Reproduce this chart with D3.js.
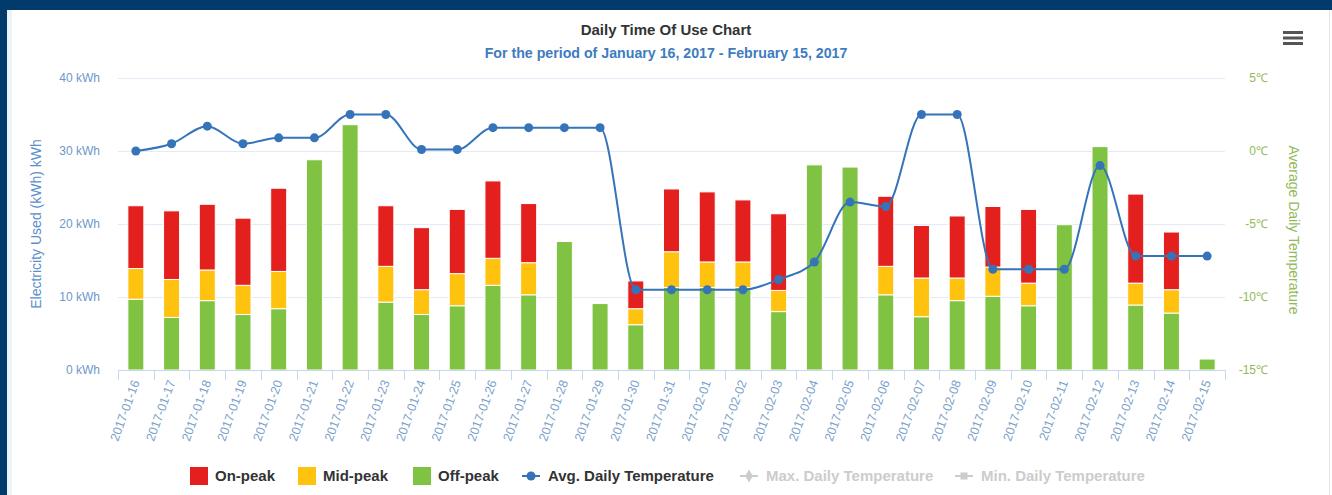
<!DOCTYPE html>
<html>
<head>
<meta charset="utf-8">
<script src="https://cdn.jsdelivr.net/npm/d3@7"></script>
<style>
  html, body { margin: 0; padding: 0; background: #003b6b; }
  #chart { position: absolute; left: 0; top: 0; }
  text { font-family: "Liberation Sans", Arial, sans-serif; }
</style>
</head>
<body>
<div id="chart"></div>
<script>
// categories
const days = ["2017-01-16","2017-01-17","2017-01-18","2017-01-19","2017-01-20","2017-01-21","2017-01-22",
  "2017-01-23","2017-01-24","2017-01-25","2017-01-26","2017-01-27","2017-01-28","2017-01-29","2017-01-30",
  "2017-01-31","2017-02-01","2017-02-02","2017-02-03","2017-02-04","2017-02-05","2017-02-06","2017-02-07",
  "2017-02-08","2017-02-09","2017-02-10","2017-02-11","2017-02-12","2017-02-13","2017-02-14","2017-02-15"];

// kWh per period
const offPeak = [9.7, 7.2, 9.5, 7.6, 8.4, 28.8, 33.6, 9.3, 7.6, 8.8, 11.6, 10.3, 17.6, 9.1, 6.2,
  11.3, 11.3, 11.3, 8.0, 28.1, 27.8, 10.3, 7.3, 9.5, 10.1, 8.8, 19.9, 30.6, 8.9, 7.8, 1.5];
const midPeak = [4.2, 5.2, 4.2, 4.0, 5.1, 0, 0, 4.9, 3.4, 4.4, 3.7, 4.4, 0, 0, 2.2,
  4.9, 3.5, 3.5, 2.9, 0, 0, 3.9, 5.3, 3.1, 4.0, 3.1, 0, 0, 3.0, 3.2, 0];
const onPeak = [8.6, 9.4, 9.0, 9.2, 11.4, 0, 0, 8.3, 8.5, 8.8, 10.6, 8.1, 0, 0, 3.8,
  8.6, 9.6, 8.5, 10.5, 0, 0, 9.6, 7.2, 8.5, 8.3, 10.1, 0, 0, 12.2, 7.9, 0];

// average daily temperature (℃)
const avgTemp = [0.0, 0.5, 1.7, 0.5, 0.9, 0.9, 2.5, 2.5, 0.1, 0.1, 1.6, 1.6, 1.6, 1.6, -9.5,
  -9.5, -9.5, -9.5, -8.8, -7.6, -3.5, -3.8, 2.5, 2.5, -8.1, -8.1, -8.1, -1.0, -7.2, -7.2, -7.2];

const kwhTicks = [0, 10, 20, 30, 40];
const tempTicks = [-15, -10, -5, 0, 5];

const seriesColors = {"Off-peak": "#80c241", "Mid-peak": "#ffc20e", "On-peak": "#e4201f"};

const W = 1332, H = 495;
const svg = d3.select("#chart").append("svg")
    .attr("width", W)
    .attr("height", H);

// white panel
svg.append("rect").attr("x", 7).attr("y", 10).attr("width", W - 7).attr("height", H - 10)
    .attr("fill", "#fff");
svg.append("rect").attr("x", 7).attr("y", 10).attr("width", 5).attr("height", H - 10)
    .attr("fill", "#eef3f9");
svg.append("line").attr("x1", 1329.5).attr("x2", 1329.5).attr("y1", 10).attr("y2", H)
    .attr("stroke", "#dde6f0");

const plotL = 118, plotR = 1225, plotT = 78, plotB = 370;

const x = d3.scaleBand().domain(days).range([plotL, plotR]).padding(0);
const y = d3.scaleLinear().domain([0, 40]).range([plotB, plotT]);
const yT = d3.scaleLinear().domain([-15, 5]).range([plotB, plotT]);
const barW = 16;

// grid
svg.append("g").selectAll("line").data(kwhTicks).enter().append("line")
    .attr("x1", plotL).attr("x2", plotR)
    .attr("y1", d => Math.round(y(d)) + 0.5).attr("y2", d => Math.round(y(d)) + 0.5)
    .attr("stroke", "#e2ecf6");

// left axis labels
svg.append("g").selectAll("text").data(kwhTicks).enter().append("text")
    .attr("x", 100).attr("y", d => y(d) + 4)
    .attr("text-anchor", "end")
    .attr("font-size", 12)
    .attr("fill", "#6e97c9")
    .text(d => d + " kWh");

svg.append("text")
    .attr("transform", `translate(41,${(plotT + plotB) / 2}) rotate(-90)`)
    .attr("text-anchor", "middle")
    .attr("font-size", 14)
    .attr("fill", "#5a8fcb")
    .text("Electricity Used (kWh) kWh");

// right axis labels
svg.append("g").selectAll("text").data(tempTicks).enter().append("text")
    .attr("x", 1268).attr("y", d => yT(d) + 4)
    .attr("text-anchor", "end")
    .attr("font-size", 12)
    .attr("fill", "#92ba5a")
    .text(d => d + "℃");

svg.append("text")
    .attr("transform", `translate(1289,${(plotT + plotB) / 2 + 6}) rotate(90)`)
    .attr("text-anchor", "middle")
    .attr("font-size", 14)
    .attr("fill", "#92ba5a")
    .text("Average Daily Temperature");

// stacked bars
const rows = days.map((d, i) => ({day: d, "Off-peak": offPeak[i], "Mid-peak": midPeak[i], "On-peak": onPeak[i]}));
const stack = d3.stack().keys(["Off-peak", "Mid-peak", "On-peak"])(rows);

svg.append("g").selectAll("g").data(stack).enter().append("g")
    .attr("fill", s => seriesColors[s.key])
    .selectAll("rect").data(s => s.filter(p => p[1] > p[0])).enter().append("rect")
    .attr("x", p => x(p.data.day) + x.bandwidth() / 2 - barW / 2)
    .attr("width", barW)
    .attr("y", p => y(p[1]))
    .attr("height", p => y(p[0]) - y(p[1]))
    .attr("stroke", "#fff")
    .attr("stroke-width", 1);

// x axis
svg.append("line").attr("x1", plotL).attr("x2", plotR).attr("y1", plotB + 0.5).attr("y2", plotB + 0.5)
    .attr("stroke", "#c8d8ec");
const bounds = days.map(d => x(d)).concat([plotR]);
svg.append("g").selectAll("line").data(bounds).enter().append("line")
    .attr("x1", d => Math.round(d) + 0.5).attr("x2", d => Math.round(d) + 0.5)
    .attr("y1", plotB).attr("y2", plotB + 10)
    .attr("stroke", "#c8d8ec");

svg.append("g").selectAll("text").data(days).enter().append("text")
    .attr("transform", d => `translate(${x(d) + x.bandwidth() / 2 + 4},${plotB + 12}) rotate(-70)`)
    .attr("text-anchor", "end")
    .attr("font-size", 12.5)
    .attr("fill", "#7b9fca")
    .text(d => d);

// temperature line
const line = d3.line()
    .x((d, i) => x(days[i]) + x.bandwidth() / 2)
    .y(d => yT(d))
    .curve(d3.curveMonotoneX);

svg.append("path").datum(avgTemp)
    .attr("d", line)
    .attr("fill", "none")
    .attr("stroke", "#3574b9")
    .attr("stroke-width", 2);

svg.append("g").selectAll("circle").data(avgTemp).enter().append("circle")
    .attr("cx", (d, i) => x(days[i]) + x.bandwidth() / 2)
    .attr("cy", d => yT(d))
    .attr("r", 4.5)
    .attr("fill", "#3574b9");

// titles
svg.append("text").attr("x", 666).attr("y", 35)
    .attr("text-anchor", "middle")
    .attr("font-size", 15).attr("font-weight", "bold")
    .attr("fill", "#333")
    .text("Daily Time Of Use Chart");
svg.append("text").attr("x", 666).attr("y", 58)
    .attr("text-anchor", "middle")
    .attr("font-size", 14.2).attr("font-weight", "bold")
    .attr("fill", "#3d7cc0")
    .text("For the period of January 16, 2017 - February 15, 2017");

// menu icon
svg.append("g").selectAll("rect").data([0, 1, 2]).enter().append("rect")
    .attr("x", 1283).attr("y", d => 31 + d * 5.5).attr("width", 20).attr("height", 3)
    .attr("fill", "#555");

// legend
const legendItems = [
  {name: "On-peak", type: "bar", color: seriesColors["On-peak"], x: 190, on: true},
  {name: "Mid-peak", type: "bar", color: seriesColors["Mid-peak"], x: 298, on: true},
  {name: "Off-peak", type: "bar", color: seriesColors["Off-peak"], x: 413, on: true},
  {name: "Avg. Daily Temperature", type: "line", marker: "circle", color: "#3574b9", x: 522, on: true},
  {name: "Max. Daily Temperature", type: "line", marker: "diamond", color: "#ccc", x: 740, on: false},
  {name: "Min. Daily Temperature", type: "line", marker: "square", color: "#ccc", x: 955, on: false}
];
const ly = 476;
const lg = svg.append("g").selectAll("g").data(legendItems).enter().append("g")
    .attr("transform", d => `translate(${d.x},${ly})`);
lg.filter(d => d.type === "bar").append("rect")
    .attr("x", 0).attr("y", -9).attr("width", 18).attr("height", 18)
    .attr("fill", d => d.color);
lg.filter(d => d.type === "line").append("line")
    .attr("x1", 0).attr("x2", 18).attr("y1", 0).attr("y2", 0)
    .attr("stroke", d => d.color).attr("stroke-width", 2);
lg.filter(d => d.type === "line").append("path")
    .attr("transform", "translate(9,0)")
    .attr("d", d => d3.symbol()
        .type(d.marker === "diamond" ? d3.symbolDiamond : d.marker === "square" ? d3.symbolSquare : d3.symbolCircle)
        .size(d.marker === "circle" ? 64 : 50)())
    .attr("fill", d => d.color);
lg.append("text")
    .attr("x", d => d.type === "bar" ? 25 : 26)
    .attr("y", 5)
    .attr("font-size", 15).attr("font-weight", "bold")
    .attr("fill", d => d.on ? "#333" : "#ccc")
    .text(d => d.name);
</script>
</body>
</html>
